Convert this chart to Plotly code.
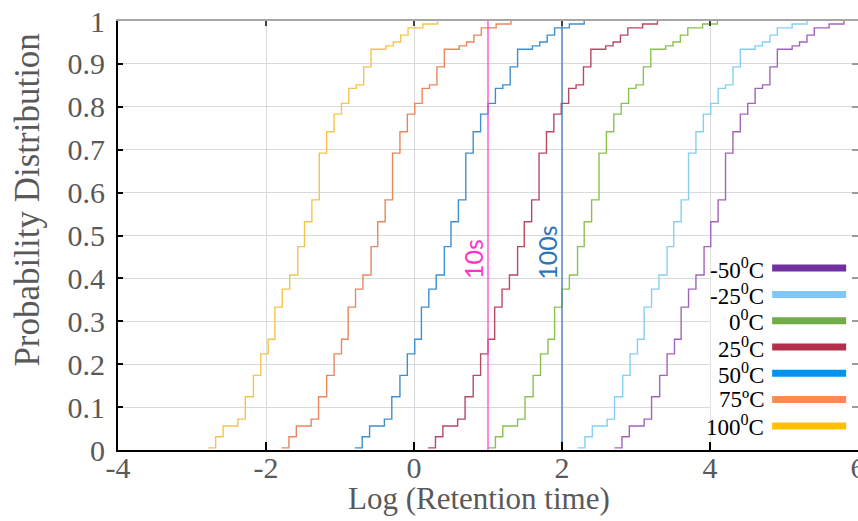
import plotly.graph_objects as go

# Cumulative probability levels (same sampling for every temperature)
cum_prob = [0.005, 0.031, 0.056, 0.072, 0.124, 0.174, 0.224, 0.258, 0.333, 0.375,
            0.408, 0.474, 0.532, 0.583, 0.692, 0.742, 0.783, 0.808, 0.843, 0.851,
            0.893, 0.934, 0.942, 0.951, 0.967, 0.984, 0.993, 1.0]

# Log(retention time) step positions, one list per temperature
log_t_100C = [-2.78, -2.68, -2.58, -2.38, -2.28, -2.17, -2.07, -1.97, -1.88, -1.78,
              -1.68, -1.57, -1.48, -1.38, -1.28, -1.18, -1.08, -0.98, -0.88, -0.78,
              -0.68, -0.58, -0.38, -0.28, -0.18, -0.08, 0.12, 0.32]
log_t_75C = [-1.79, -1.69, -1.59, -1.39, -1.29, -1.18, -1.08, -0.98, -0.89, -0.79,
             -0.69, -0.58, -0.49, -0.39, -0.29, -0.19, -0.09, 0.01, 0.11, 0.21,
             0.31, 0.41, 0.61, 0.71, 0.81, 0.91, 1.11, 1.31]
log_t_50C = [-0.80, -0.70, -0.60, -0.40, -0.30, -0.19, -0.09, 0.01, 0.10, 0.20,
             0.30, 0.41, 0.50, 0.60, 0.70, 0.80, 0.90, 1.00, 1.10, 1.20,
             1.30, 1.40, 1.60, 1.70, 1.80, 1.90, 2.10, 2.30]
log_t_25C = [0.19, 0.29, 0.39, 0.59, 0.69, 0.80, 0.90, 1.00, 1.09, 1.19,
             1.29, 1.40, 1.49, 1.59, 1.69, 1.79, 1.89, 1.99, 2.09, 2.19,
             2.29, 2.39, 2.59, 2.69, 2.79, 2.89, 3.09, 3.29]
log_t_0C = [1.00, 1.10, 1.20, 1.40, 1.50, 1.61, 1.71, 1.81, 1.90, 2.00,
            2.10, 2.21, 2.30, 2.40, 2.50, 2.60, 2.70, 2.80, 2.90, 3.00,
            3.10, 3.20, 3.40, 3.50, 3.60, 3.70, 3.90, 4.10]
log_t_m25C = [2.21, 2.31, 2.41, 2.61, 2.71, 2.82, 2.92, 3.02, 3.11, 3.21,
              3.31, 3.42, 3.51, 3.61, 3.71, 3.81, 3.91, 4.01, 4.11, 4.21,
              4.31, 4.41, 4.61, 4.71, 4.81, 4.91, 5.11, 5.31]
log_t_m50C = [2.71, 2.81, 2.91, 3.11, 3.21, 3.32, 3.42, 3.52, 3.61, 3.71,
              3.81, 3.92, 4.01, 4.11, 4.21, 4.31, 4.41, 4.51, 4.61, 4.71,
              4.81, 4.91, 5.11, 5.21, 5.31, 5.41, 5.61, 5.81]

series_labels = ["-50<sup>0</sup>C", "-25<sup>0</sup>C", "0<sup>0</sup>C", "25<sup>0</sup>C",
                 "50<sup>0</sup>C", "75ºC", "100<sup>0</sup>C"]
series_data = [log_t_m50C, log_t_m25C, log_t_0C, log_t_25C, log_t_50C, log_t_75C, log_t_100C]
curve_colors = ["#A463BA", "#84D0F2", "#8CC152", "#B74A63", "#3F90CF", "#E9875E", "#F4C44E"]
legend_colors = ["#7030A0", "#7DC8F8", "#70AD47", "#B2304A", "#0094F0", "#FF8A50", "#FFC000"]

# Reference retention times (log10 of 10 s and 100 s)
ref_log_t = [1, 2]
ref_labels = ["10s", "100s"]
ref_colors = ["#FF44CC", "#3E7FBF"]
ref_text_colors = ["#FF33CC", "#2E75B6"]

x_ticks = [-4, -2, 0, 2, 4, 6]
y_ticks = [0, 0.1, 0.2, 0.3, 0.4, 0.5, 0.6, 0.7, 0.8, 0.9, 1]
y_tick_text = ["0", "0.1", "0.2", "0.3", "0.4", "0.5", "0.6", "0.7", "0.8", "0.9", "1"]

SERIF = "Liberation Serif"
GRAY = "#595959"

fig = go.Figure()

for xs, c in zip(series_data, curve_colors):
    fig.add_trace(go.Scatter(x=xs, y=cum_prob, mode="lines",
                             line=dict(color=c, width=1.4, shape="hv"),
                             showlegend=False, hoverinfo="skip"))

for xv, c in zip(ref_log_t, ref_colors):
    fig.add_trace(go.Scatter(x=[xv, xv], y=[0, 1], mode="lines",
                             line=dict(color=c, width=1.3),
                             showlegend=False, hoverinfo="skip"))

# dummy trace for mirrored axes
fig.add_trace(go.Scatter(x=[None], y=[None], xaxis="x2", yaxis="y2",
                         showlegend=False, hoverinfo="skip"))

annotations = []
for xv, lab, c, yc in zip(ref_log_t, ref_labels, ref_text_colors, [0.445, 0.46]):
    annotations.append(dict(x=xv, y=yc, xref="x", yref="y", text=lab, textangle=-90,
                            showarrow=False, xanchor="right", yanchor="middle", xshift=2,
                            font=dict(family="Lato, Open Sans, sans-serif", size=25, color=c)))

# custom legend (text left of a thick line)
legend_top = 0.424
legend_step = 0.0613
shapes = [dict(type="rect", xref="x", yref="y", x0=4.01, x1=6.0, y0=0.004, y1=0.46,
               fillcolor="white", line=dict(width=0), layer="between")]
for i, (lab, lc) in enumerate(zip(series_labels, legend_colors)):
    yy = legend_top - i * legend_step
    annotations.append(dict(x=4.75, y=yy, xref="x", yref="y", text=lab, showarrow=False,
                            xanchor="right", yanchor="middle",
                            font=dict(family=SERIF, size=23, color="black")))
    shapes.append(dict(type="line", xref="x", yref="y", x0=4.84, x1=5.84, y0=yy, y1=yy,
                       line=dict(color=lc, width=7)))

# axis titles
annotations.append(dict(x=-0.122, y=0.583, xref="paper", yref="paper",
                        text="Probability Distribution", textangle=-90, showarrow=False,
                        xanchor="center", yanchor="middle",
                        font=dict(family=SERIF, size=35, color=GRAY)))
annotations.append(dict(x=0.488, y=-0.113, xref="paper", yref="paper",
                        text="Log (Retention time)", showarrow=False,
                        xanchor="center", yanchor="middle",
                        font=dict(family=SERIF, size=31, color=GRAY)))

fig.update_layout(
    width=858, height=521,
    margin=dict(l=118, r=0, t=21, b=71, autoexpand=False),
    paper_bgcolor="white", plot_bgcolor="white",
    showlegend=False,
    xaxis=dict(range=[-4, 6], tickvals=x_ticks, ticktext=[str(v) for v in x_ticks],
               showgrid=True, gridcolor="#D9D9D9", gridwidth=1, zeroline=False,
               showline=True, linecolor="black", linewidth=2,
               ticks="inside", ticklen=8, tickwidth=2, tickcolor="black",
               ticklabelstandoff=-10, ticklabeloverflow="allow", automargin=False,
               tickfont=dict(family=SERIF, size=30, color=GRAY)),
    yaxis=dict(range=[0, 1], tickvals=y_ticks, ticktext=y_tick_text,
               showgrid=True, gridcolor="#D9D9D9", gridwidth=1, zeroline=False,
               showline=True, linecolor="black", linewidth=2,
               ticks="inside", ticklen=5, tickwidth=2, tickcolor="black",
               ticklabelstandoff=5, ticklabeloverflow="allow", automargin=False,
               tickfont=dict(family=SERIF, size=30, color=GRAY)),
    xaxis2=dict(range=[-4, 6], overlaying="x", side="top", tickvals=[-2, 0, 2, 4],
                showticklabels=False, showgrid=False, zeroline=False,
                showline=True, linecolor="#A6A6A6", linewidth=1.5,
                ticks="inside", ticklen=5, tickwidth=1.5, tickcolor="#404040"),
    yaxis2=dict(range=[0, 1], overlaying="y", side="right", tickvals=y_ticks[1:-1],
                showticklabels=False, showgrid=False, zeroline=False, showline=False,
                ticks="inside", ticklen=6, tickwidth=1.5, tickcolor="#9A9A9A"),
    annotations=annotations,
    shapes=shapes,
)

fig.write_html("out.html")
